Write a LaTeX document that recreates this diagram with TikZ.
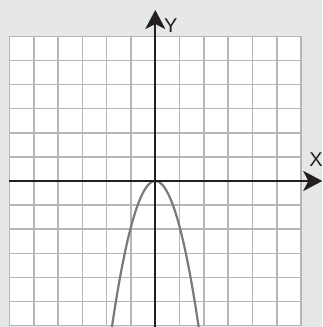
\documentclass[tikz,border=0pt]{standalone}
\usepackage{fontspec}
\setmainfont{Liberation Sans}
\usetikzlibrary{arrows.meta}
\definecolor{bggray}{HTML}{E6E7E8}
\definecolor{gridgray}{HTML}{B5B6B8}
\definecolor{curvegray}{HTML}{7A7A7A}
\definecolor{axisblack}{HTML}{231F20}
\tikzset{
  gridline/.style={draw=gridgray, line width=1.5pt},
  axisline/.style={draw=axisblack, line width=2pt, -{Stealth[length=19pt,width=20pt,inset=5pt]}},
  curveline/.style={draw=curvegray, line width=2.2pt},
  axislabel/.style={font=\fontsize{20}{20}\selectfont, text=axisblack, inner sep=0pt},
}
\begin{document}
\begin{tikzpicture}
\fill[bggray] (-155.3pt,-146pt) rectangle (166.7pt,181pt);
\useasboundingbox (-155.3pt,-146pt) rectangle (166.7pt,181pt);
\clip (-155.3pt,-146pt) rectangle (166.7pt,181pt);
\begin{scope}[x=24.3pt,y=24.1pt]
  \fill[white] (-6,-6) rectangle (6,6);
  \draw[gridline] (-6,-6) grid[xstep=1,ystep=1] (6,6);
  \draw[curveline] plot[domain=-1.85:1.85, samples=80, smooth] (\x,{-1.9*\x*\x});
  \coordinate (xs) at (-6,0);
  \coordinate (ys) at (0,-6.3);
\end{scope}
\coordinate (xe) at (167pt,0pt);
\coordinate (ye) at (0pt,171pt);
\draw[axisline] (xs) -- (xe);
\draw[axisline] (ys) -- (ye);
\node[axislabel] (xl) at (160.7pt,21pt) {X};
\node[axislabel] (yl) at (15.5pt,155pt) {Y};
\end{tikzpicture}
\end{document}
